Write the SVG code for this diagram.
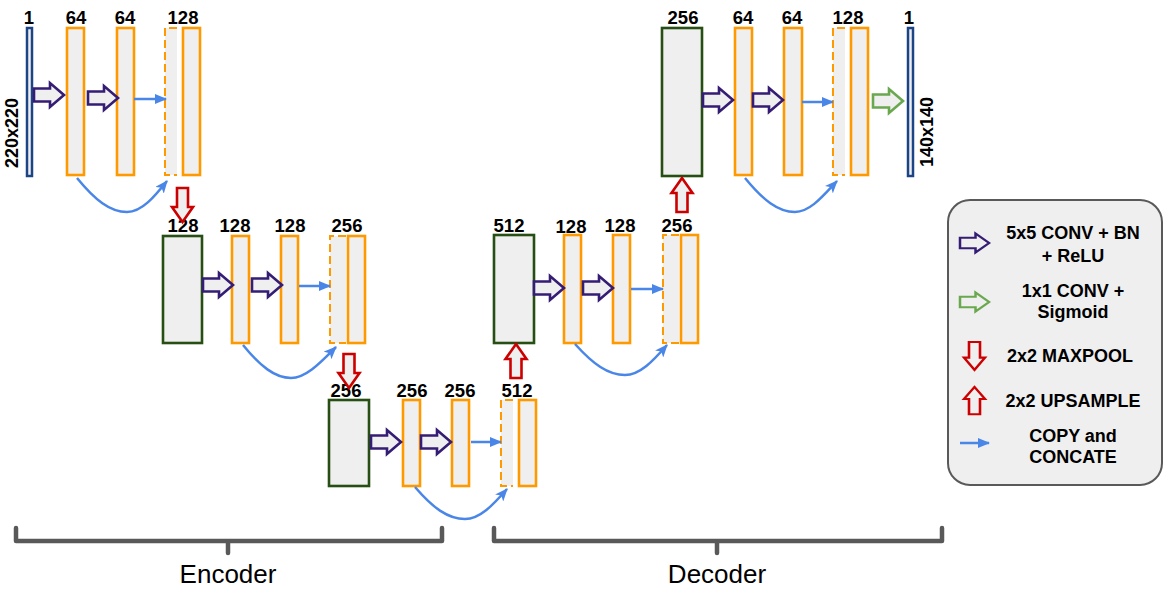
<svg xmlns="http://www.w3.org/2000/svg" width="1174" height="595" viewBox="0 0 1174 595">
<style>
.bg{fill:#ffffff}
.io{fill:#efefef;stroke:#1c4587;stroke-width:2.5}
.or{fill:#efefef;stroke:#ff9900;stroke-width:2.6}
.gr{fill:#efefef;stroke:#274e13;stroke-width:2.6}
.dfill{fill:#efefef;stroke:none}
.dash{fill:none;stroke:#ff9900;stroke-width:2;stroke-dasharray:8 4}
.lbl{font-family:"Liberation Sans",Arial,sans-serif;font-weight:bold;font-size:18.5px;fill:#000;text-anchor:middle}
.rot{font-family:"Liberation Sans",Arial,sans-serif;font-weight:bold;font-size:18px;fill:#000;text-anchor:middle}
.leg{font-family:"Liberation Sans",Arial,sans-serif;font-weight:bold;font-size:18px;fill:#000;text-anchor:middle}
.big{font-family:"Liberation Sans",Arial,sans-serif;font-size:26px;fill:#000;text-anchor:middle}
.pa{fill:#efefef;stroke:#351c75;stroke-width:2.6;stroke-linejoin:miter}
.ga{fill:#efefef;stroke:#6aa84f;stroke-width:2.6}
.ra{fill:#efefef;stroke:#cc0000;stroke-width:2.6}
.bl{fill:none;stroke:#4a86e8;stroke-width:2.5}
.br{fill:none;stroke:#595959;stroke-width:4.5;stroke-linejoin:round;stroke-linecap:round}
</style>
<defs>
<path id="rarr" d="M0,-6.5 H16 V-12 L30,0 L16,12 V6.5 H0 Z"/>
<path id="darr" d="M-5.5,0 H5.5 V19 H10.5 L0,34 L-10.5,19 H-5.5 Z"/>
<path id="uarr" d="M-5.5,34 H5.5 V15 H10.5 L0,0 L-10.5,15 H-5.5 Z"/>
<marker id="bh" viewBox="0 0 12 10" refX="11" refY="5" markerWidth="12" markerHeight="10" markerUnits="userSpaceOnUse" orient="auto"><path d="M0,0 L12,5 L0,10 Z" fill="#4a86e8"/></marker>
<marker id="ch" viewBox="0 0 12 10" refX="11" refY="5" markerWidth="13" markerHeight="11" markerUnits="userSpaceOnUse" orient="auto"><path d="M0,0 L12,5 L0,10 L3,5 Z" fill="#4a86e8"/></marker>
</defs>
<rect class="bg" x="0" y="0" width="1174" height="595"/>

<!-- Encoder level 1 -->
<g id="input">
<rect class="io" x="27" y="28" width="5" height="148"/>
<text class="lbl" x="29" y="24">1</text>
<text class="rot" transform="translate(17.5,133) rotate(-90)" x="0" y="0">220x220</text>
</g>
<g id="e1a"><rect class="or" x="67" y="28" width="17" height="147"/><text class="lbl" x="76" y="24">64</text></g>
<g id="e1b"><rect class="or" x="117" y="28" width="17" height="147"/><text class="lbl" x="125" y="24">64</text></g>
<g id="e1c">
<rect class="dfill" x="165" y="28" width="12" height="147"/>
<path class="dash" d="M177,28 H165 V175 H177"/>
<rect class="or" x="183" y="28" width="17" height="147"/>
<text class="lbl" x="183" y="24">128</text>
</g>

<!-- Encoder level 2 -->
<g id="e2g"><rect class="gr" x="163" y="236" width="39" height="107"/><text class="lbl" x="183" y="232">128</text></g>
<g id="e2a"><rect class="or" x="232" y="236" width="17" height="107"/><text class="lbl" x="235" y="232">128</text></g>
<g id="e2b"><rect class="or" x="281" y="236" width="17" height="107"/><text class="lbl" x="290" y="232">128</text></g>
<g id="e2c">
<rect class="dfill" x="330" y="236" width="16" height="107"/>
<path class="dash" d="M346,236 H330 V343 H346"/>
<rect class="or" x="348" y="236" width="17" height="107"/>
<text class="lbl" x="347" y="232">256</text>
</g>

<!-- Bottom level -->
<g id="b3g"><rect class="gr" x="329" y="400" width="40" height="86"/><text class="lbl" x="346" y="397">256</text></g>
<g id="b3a"><rect class="or" x="403" y="400" width="17" height="86"/><text class="lbl" x="412" y="397">256</text></g>
<g id="b3b"><rect class="or" x="452" y="400" width="17" height="86"/><text class="lbl" x="460" y="397">256</text></g>
<g id="b3c">
<rect class="dfill" x="501" y="400" width="12" height="86"/>
<path class="dash" d="M513,400 H501 V486 H513"/>
<rect class="or" x="519" y="400" width="17" height="86"/>
<text class="lbl" x="517" y="397">512</text>
</g>

<!-- Decoder level 2 -->
<g id="d2g"><rect class="gr" x="494" y="235" width="40" height="108"/><text class="lbl" x="509" y="232">512</text></g>
<g id="d2a"><rect class="or" x="564" y="235" width="17" height="108"/><text class="lbl" x="571" y="233">128</text></g>
<g id="d2b"><rect class="or" x="613" y="235" width="17" height="108"/><text class="lbl" x="620" y="232">128</text></g>
<g id="d2c">
<rect class="dfill" x="663" y="235" width="16" height="108"/>
<path class="dash" d="M679,235 H663 V343 H679"/>
<rect class="or" x="681" y="235" width="17" height="108"/>
<text class="lbl" x="677" y="232">256</text>
</g>

<!-- Decoder level 1 -->
<g id="d1g"><rect class="gr" x="662" y="28" width="40" height="148"/><text class="lbl" x="683" y="24">256</text></g>
<g id="d1a"><rect class="or" x="735" y="28" width="17" height="147"/><text class="lbl" x="743" y="24">64</text></g>
<g id="d1b"><rect class="or" x="784" y="28" width="18" height="147"/><text class="lbl" x="792" y="24">64</text></g>
<g id="d1c">
<rect class="dfill" x="833" y="28" width="12" height="147"/>
<path class="dash" d="M845,28 H833 V175 H845"/>
<rect class="or" x="851" y="28" width="17" height="147"/>
<text class="lbl" x="848" y="24">128</text>
</g>
<g id="output">
<rect class="io" x="908" y="28" width="5" height="148"/>
<text class="lbl" x="909" y="24">1</text>
<text class="rot" transform="translate(933,132) rotate(-90)" x="0" y="0">140x140</text>
</g>

<!-- Connectors -->
<g id="connectors">
<use href="#rarr" class="pa" x="34" y="95"/>
<use href="#rarr" class="pa" x="88" y="98"/>
<line class="bl" x1="134" y1="99" x2="166" y2="99" marker-end="url(#bh)"/>
<path class="bl" d="M77,178 C95,200 110,212 127,212 C142,212 155,196 167,181" marker-end="url(#ch)"/>
<use href="#darr" class="ra" x="182.5" y="188"/>

<use href="#rarr" class="pa" x="203" y="285"/>
<use href="#rarr" class="pa" x="252" y="285"/>
<line class="bl" x1="299" y1="286" x2="330" y2="286" marker-end="url(#bh)"/>
<path class="bl" d="M243,345 C260,366 275,378 291,378 C306,378 320,363 336,347" marker-end="url(#ch)"/>
<use href="#darr" class="ra" x="349" y="354"/>

<use href="#rarr" class="pa" x="371" y="442"/>
<use href="#rarr" class="pa" x="421" y="442"/>
<line class="bl" x1="471" y1="442" x2="501" y2="442" marker-end="url(#bh)"/>
<path class="bl" d="M415,487 C433,508 448,519 465,519 C480,519 493,505 507,489" marker-end="url(#ch)"/>
<use href="#uarr" class="ra" x="516" y="344"/>

<use href="#rarr" class="pa" x="534" y="288"/>
<use href="#rarr" class="pa" x="583" y="288"/>
<line class="bl" x1="631" y1="289" x2="663" y2="289" marker-end="url(#bh)"/>
<path class="bl" d="M575,344 C593,364 608,375 625,375 C640,375 653,361 667,345" marker-end="url(#ch)"/>
<use href="#uarr" class="ra" x="682" y="178"/>

<use href="#rarr" class="pa" x="703" y="100"/>
<use href="#rarr" class="pa" x="753" y="100"/>
<line class="bl" x1="802" y1="102" x2="833" y2="102" marker-end="url(#bh)"/>
<path class="bl" d="M745,178 C763,200 778,212 795,212 C810,212 823,196 837,181" marker-end="url(#ch)"/>
<use href="#rarr" class="ga" x="873" y="101"/>
</g>

<!-- Brackets -->
<g id="encoder-bracket">
<path class="br" d="M16,528 V541 H442 V528 M228,541 V553"/>
<text class="big" x="228" y="583">Encoder</text>
</g>
<g id="decoder-bracket">
<path class="br" d="M494,528 V541 H942 V528 M717,541 V553"/>
<text class="big" x="717" y="583">Decoder</text>
</g>

<!-- Legend -->
<g id="legend">
<rect x="948" y="200" width="214" height="285" rx="22" fill="#efefef" stroke="#595959" stroke-width="2"/>
<use href="#rarr" class="pa" transform="translate(960,243) scale(0.97,0.8)"/>
<text class="leg" x="1073" y="239">5x5 CONV + BN</text>
<text class="leg" x="1073" y="262">+ ReLU</text>
<use href="#rarr" class="ga" transform="translate(960,302) scale(0.97,0.8)"/>
<text class="leg" x="1073" y="297">1x1 CONV +</text>
<text class="leg" x="1073" y="318">Sigmoid</text>
<use href="#darr" class="ra" transform="translate(974.5,342) scale(1,0.82)"/>
<text class="leg" x="1070" y="362">2x2 MAXPOOL</text>
<use href="#uarr" class="ra" transform="translate(974.5,387) scale(1,0.8)"/>
<text class="leg" x="1073" y="407">2x2 UPSAMPLE</text>
<line class="bl" x1="960" y1="443" x2="989" y2="443" marker-end="url(#bh)"/>
<text class="leg" x="1073" y="442">COPY and</text>
<text class="leg" x="1073" y="463">CONCATE</text>
</g>
</svg>
